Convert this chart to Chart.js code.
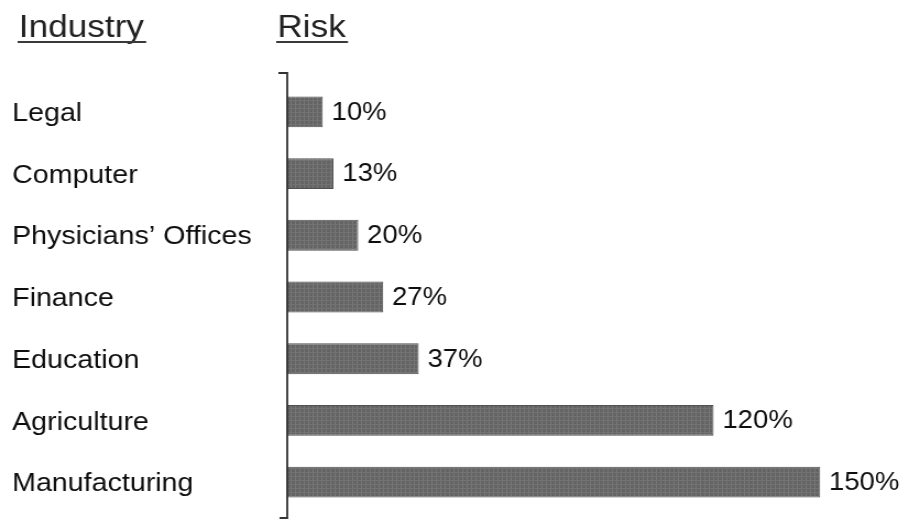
<!DOCTYPE html>
<html>
<head>
<meta charset="utf-8">
<title>Industry Risk</title>
<script src="https://cdn.jsdelivr.net/npm/chart.js@4/dist/chart.umd.min.js"></script>
<style>
  html, body { margin: 0; padding: 0; background: #fff; }
</style>
</head>
<body>
<!-- drawn at 826px and shown at 909px, which gives the wide lettering -->
<canvas id="risk_chart" width="826" height="520" style="width:909px;height:520px"></canvas>
<script>
const industries = ['Legal', 'Computer', 'Physicians\u2019 Offices', 'Finance', 'Education', 'Agriculture', 'Manufacturing'];
const risk = [10, 13, 20, 27, 37, 120, 150];
const headings = ['Industry', 'Risk'];
const xMax = 175;

const font_family = "'Liberation Sans', Arial, Helvetica, sans-serif";
const text_color = '#0e0e0e';

// fine grey grid texture used for the bars
function barPattern() {
    const tile = document.createElement('canvas');
    tile.width = 4;
    tile.height = 4;
    const c = tile.getContext('2d');
    c.fillStyle = '#646464';
    c.fillRect(0, 0, 4, 4);
    c.fillStyle = '#777777';
    c.fillRect(0, 0, 1, 4);
    c.fillStyle = '#727272';
    c.fillRect(0, 0, 4, 1);
    return c.createPattern(tile, 'repeat');
}

const headerAndLabels = {
    id: 'headerAndLabels',
    afterDraw(chart) {
        const ctx = chart.ctx;
        const area = chart.chartArea;
        ctx.save();

        // column headings, underlined
        ctx.font = '32px ' + font_family;
        ctx.fillStyle = '#222';
        ctx.strokeStyle = '#3a3a3a';
        ctx.lineWidth = 2;
        ctx.textBaseline = 'alphabetic';
        ctx.textAlign = 'left';
        const heading_x = [17, area.left - 9];
        headings.forEach((h, i) => {
            ctx.fillText(h, heading_x[i], 37);
            const w = ctx.measureText(h).width;
            ctx.beginPath();
            ctx.moveTo(heading_x[i] - 1, 42);
            ctx.lineTo(heading_x[i] + w + 2, 42);
            ctx.stroke();
        });

        // vertical axis with end ticks
        ctx.strokeStyle = '#333';
        ctx.lineWidth = 1.8;
        ctx.beginPath();
        ctx.moveTo(area.left - 8, 73);
        ctx.lineTo(area.left, 73);
        ctx.lineTo(area.left, 518);
        ctx.lineTo(area.left - 7, 518);
        ctx.stroke();

        // value labels at bar ends
        ctx.font = '25px ' + font_family;
        ctx.fillStyle = text_color;
        ctx.textBaseline = 'middle';
        const meta = chart.getDatasetMeta(0);
        meta.data.forEach((bar, i) => {
            ctx.fillText(risk[i] + '%', bar.x + 8, bar.y + 1);
        });
        ctx.restore();
    }
};

const risk_chart = new Chart(document.getElementById('risk_chart'), {
    type: 'bar',
    data: {
        labels: industries,
        datasets: [{
            data: risk,
            backgroundColor: barPattern(),
            borderColor: '#505050',
            borderWidth: 1,
            borderSkipped: false,
            categoryPercentage: 0.5,
            barPercentage: 1
        }]
    },
    options: {
        indexAxis: 'y',
        responsive: false,
        animation: false,
        devicePixelRatio: 1,
        layout: { padding: { top: 81, bottom: 7, left: 11, right: 0 } },
        plugins: {
            legend: { display: false },
            tooltip: { enabled: false }
        },
        scales: {
            x: {
                display: false,
                min: 0,
                max: xMax
            },
            y: {
                grid: { display: false },
                border: { display: false },
                afterFit(scale) {
                    scale.width = 250;
                    // labels sit inside the bands, no extra room above/below
                    scale.paddingTop = 0;
                    scale.paddingBottom = 0;
                },
                ticks: {
                    crossAlign: 'far',
                    autoSkip: false,
                    labelOffset: 2,
                    color: text_color,
                    font: { family: font_family, size: 26 }
                }
            }
        }
    },
    plugins: [headerAndLabels]
});
</script>
</body>
</html>
